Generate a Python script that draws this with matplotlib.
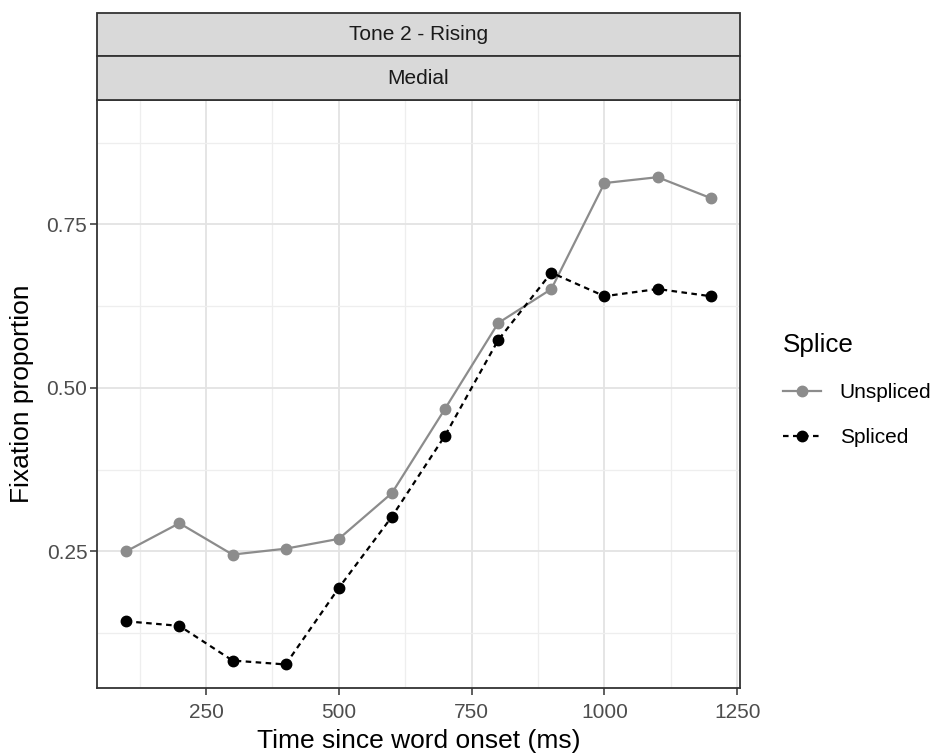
import matplotlib

matplotlib.use("Agg")
import matplotlib.pyplot as plt
from matplotlib.patches import Rectangle
from matplotlib.lines import Line2D

plt.rcParams["font.family"] = ["Liberation Sans", "DejaVu Sans"]

time_ms = [100, 200, 300, 400, 500, 600, 700, 800, 900, 1000, 1100, 1200]
unspliced = [0.250, 0.293, 0.245, 0.254, 0.269, 0.339, 0.468, 0.599, 0.651, 0.813, 0.822, 0.790]
spliced = [0.143, 0.136, 0.083, 0.077, 0.194, 0.303, 0.427, 0.573, 0.676, 0.640, 0.651, 0.640]
x_ticks = [250, 500, 750, 1000, 1250]
y_ticks = [0.25, 0.50, 0.75]
strip_labels = ["Tone 2 - Rising", "Medial"]

W, H = 937, 756
fig = plt.figure(figsize=(W / 100, H / 100), dpi=100)


def fx(px):
    return px / W


def fy(py):
    return 1 - py / H


# panel in pixel coords
left, right, top, bottom = 97, 740, 100, 688
ax = fig.add_axes([fx(left), fy(bottom), fx(right - left), (bottom - top) / H])

dash = (0, (2.5, 2))
ax.plot(time_ms, unspliced, color="#8c8c8c", lw=1.6, marker="o", ms=7.5, zorder=3)
ax.plot(time_ms, spliced, color="black", lw=1.6, ls=dash, marker="o", ms=7.5, zorder=3)

ax.set_xlim(45, 1255)
ax.set_ylim(0.041, 0.94)
ax.set_xticks(x_ticks)
ax.set_xticklabels([str(t) for t in x_ticks])
ax.set_yticks(y_ticks)
ax.set_yticklabels([f"{t:.2f}" for t in y_ticks])
ax.set_xticks([125, 375, 625, 875, 1125], minor=True)
ax.set_yticks([0.125, 0.375, 0.625, 0.875], minor=True)
ax.grid(True, which="major", color="#e3e3e3", lw=1.3)
ax.grid(True, which="minor", color="#eeeeee", lw=0.9)
ax.set_axisbelow(True)
ax.tick_params(which="major", direction="out", length=5, width=1.1, color="#333333",
               labelsize=15, labelcolor="#4d4d4d")
ax.tick_params(axis="x", which="major", pad=5.5)
ax.tick_params(axis="y", which="major", pad=2)
ax.tick_params(which="minor", length=0)
for s in ax.spines.values():
    s.set_color("#333333")
    s.set_linewidth(1.3)

fig.text(fx((left + right) / 2), fy(741), "Time since word onset (ms)", ha="center",
         va="center", fontsize=19)
fig.text(fx(22), fy((top + bottom) / 2), "Fixation proportion", ha="center",
         va="center", rotation=90, fontsize=19)

# facet strips
strip_edges = [13, 56, 100]
for i, lab in enumerate(strip_labels):
    y0, y1 = strip_edges[i], strip_edges[i + 1]
    fig.patches.append(Rectangle((fx(left), fy(y1)), fx(right - left), (y1 - y0) / H,
                                 transform=fig.transFigure, facecolor="#d9d9d9",
                                 edgecolor="#333333", lw=1.3))
    fig.text(fx((left + right) / 2), fy((y0 + y1) / 2), lab, ha="center", va="center",
             fontsize=15, color="#1a1a1a")

# legend
handles = [
    Line2D([], [], color="#8c8c8c", lw=1.6, marker="o", ms=7.5),
    Line2D([], [], color="black", lw=1.6, ls=dash, marker="o", ms=7.5),
]
fig.legend(handles, ["Unspliced", "Spliced"], title="Splice", loc="upper left",
           bbox_to_anchor=(fx(775), fy(325)), frameon=False, fontsize=15,
           title_fontsize=18.75, handlelength=1.8, handletextpad=0.9, labelspacing=1.25,
           alignment="left", borderaxespad=0)

fig.savefig("out.png", dpi=100)
